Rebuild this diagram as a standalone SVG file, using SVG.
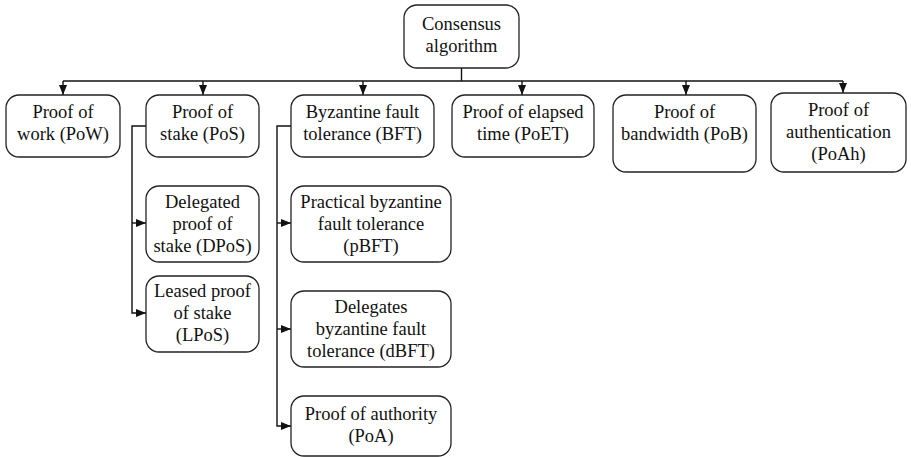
<svg xmlns="http://www.w3.org/2000/svg" width="911" height="457" viewBox="0 0 911 457">
<defs>
<marker id="arr" markerUnits="userSpaceOnUse" markerWidth="10" markerHeight="10" viewBox="0 0 10 10" refX="10" refY="5" orient="auto">
<path d="M0,1 L10,5 L0,9 Z" fill="#111"/>
</marker>
<style>
.box{fill:#fff;stroke:#222;stroke-width:1.3}
.lbl{font-family:"Liberation Serif","Times New Roman",serif;font-size:18.5px;fill:#111;text-anchor:middle}
.c{fill:none;stroke:#111;stroke-width:1.4}
</style>
</defs>
<g id="connectors">
<path class="c" d="M461.5,68 V81" stroke-width="2"/>
<path class="c" d="M63,81 H843"/>
<path class="c" d="M63,81 V95" marker-end="url(#arr)"/>
<path class="c" d="M203,81 V95" marker-end="url(#arr)"/>
<path class="c" d="M363,81 V95" marker-end="url(#arr)"/>
<path class="c" d="M522,81 V95" marker-end="url(#arr)"/>
<path class="c" d="M686,81 V95" marker-end="url(#arr)"/>
<path class="c" d="M843,81 V93" marker-end="url(#arr)"/>
<path class="c" d="M146,126 H132 V313 H146" marker-end="url(#arr)"/>
<path class="c" d="M132,223 H146" marker-end="url(#arr)"/>
<path class="c" d="M291,126 H277 V426 H291" marker-end="url(#arr)"/>
<path class="c" d="M277,223 H291" marker-end="url(#arr)"/>
<path class="c" d="M277,329 H291" marker-end="url(#arr)"/>
</g>
<g id="consensus">
<rect class="box" x="404" y="5" width="115" height="63" rx="13"/>
<text class="lbl" x="461.5" y="30">Consensus</text>
<text class="lbl" x="461.5" y="52">algorithm</text>
</g>
<g id="pow">
<rect class="box" x="6" y="95" width="114" height="62" rx="13"/>
<text class="lbl" x="63" y="118">Proof of</text>
<text class="lbl" x="63" y="140">work (PoW)</text>
</g>
<g id="pos">
<rect class="box" x="146" y="95" width="113" height="62" rx="13"/>
<text class="lbl" x="202.5" y="118">Proof of</text>
<text class="lbl" x="202.5" y="140">stake (PoS)</text>
</g>
<g id="bft">
<rect class="box" x="291" y="95" width="143" height="62" rx="13"/>
<text class="lbl" x="362.5" y="118">Byzantine fault</text>
<text class="lbl" x="362.5" y="140">tolerance (BFT)</text>
</g>
<g id="poet">
<rect class="box" x="452" y="95" width="142" height="62" rx="13"/>
<text class="lbl" x="523" y="118">Proof of elapsed</text>
<text class="lbl" x="523" y="140">time (PoET)</text>
</g>
<g id="pob">
<rect class="box" x="613" y="95" width="143" height="77" rx="13"/>
<text class="lbl" x="684.5" y="118">Proof of</text>
<text class="lbl" x="684.5" y="140">bandwidth (PoB)</text>
</g>
<g id="poah">
<rect class="box" x="771" y="93" width="135" height="79" rx="13"/>
<text class="lbl" x="838.5" y="116">Proof of</text>
<text class="lbl" x="838.5" y="138">authentication</text>
<text class="lbl" x="838.5" y="160">(PoAh)</text>
</g>
<g id="dpos">
<rect class="box" x="146" y="186" width="113" height="76" rx="13"/>
<text class="lbl" x="202.5" y="208">Delegated</text>
<text class="lbl" x="202.5" y="230">proof of</text>
<text class="lbl" x="202.5" y="252">stake (DPoS)</text>
</g>
<g id="lpos">
<rect class="box" x="146" y="276" width="113" height="76" rx="13"/>
<text class="lbl" x="202.5" y="297">Leased proof</text>
<text class="lbl" x="202.5" y="319">of stake</text>
<text class="lbl" x="202.5" y="341">(LPoS)</text>
</g>
<g id="pbft">
<rect class="box" x="291" y="186" width="160" height="76" rx="13"/>
<text class="lbl" x="371" y="208">Practical byzantine</text>
<text class="lbl" x="371" y="230">fault tolerance</text>
<text class="lbl" x="371" y="252">(pBFT)</text>
</g>
<g id="dbft">
<rect class="box" x="291" y="291" width="160" height="76" rx="13"/>
<text class="lbl" x="371" y="313">Delegates</text>
<text class="lbl" x="371" y="335">byzantine fault</text>
<text class="lbl" x="371" y="357">tolerance (dBFT)</text>
</g>
<g id="poa">
<rect class="box" x="291" y="396" width="160" height="60" rx="13"/>
<text class="lbl" x="371" y="420">Proof of authority</text>
<text class="lbl" x="371" y="442">(PoA)</text>
</g>
</svg>
